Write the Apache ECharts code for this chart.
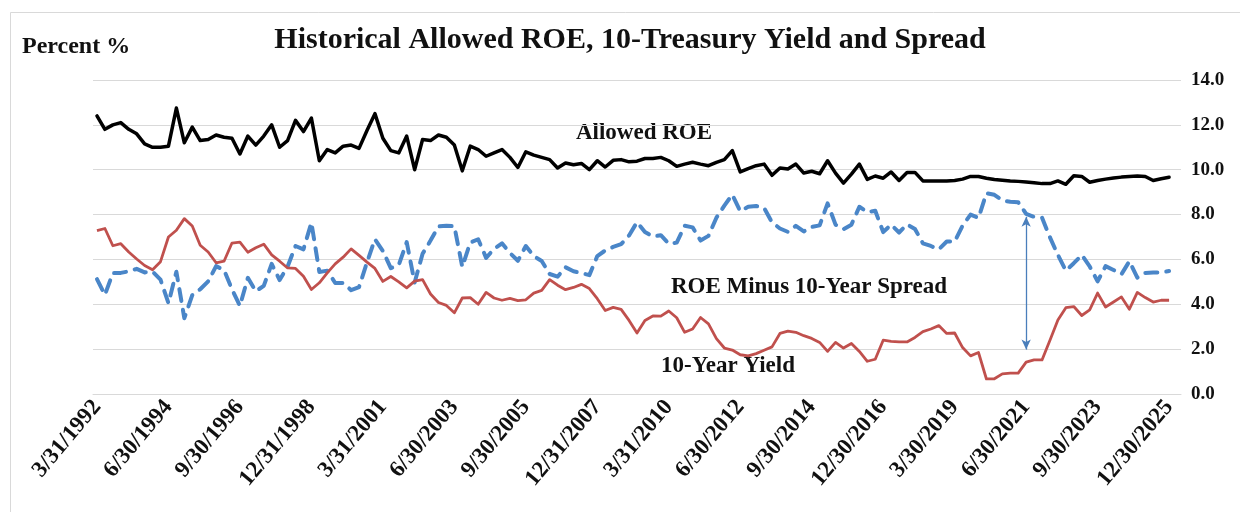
<!DOCTYPE html>
<html>
<head>
<meta charset="utf-8">
<script src="https://cdn.jsdelivr.net/npm/echarts@6/dist/echarts.min.js"></script>
<style>
  html, body { margin: 0; padding: 0; background: #ffffff; }
  #chart { width: 1240px; height: 512px; }
</style>
</head>
<body>
<div id="chart"></div>
<script>
// ---- Data (quarterly, 3/31/1992 .. 12/30/2025) ----
const tickLabels = ['3/31/1992', '6/30/1994', '9/30/1996', '12/31/1998', '3/31/2001', '6/30/2003',
  '9/30/2005', '12/31/2007', '3/31/2010', '6/30/2012', '9/30/2014', '12/30/2016',
  '3/30/2019', '6/30/2021', '9/30/2023', '12/30/2025'];

const allowedROE = [
  12.4, 11.8, 12.0, 12.1, 11.8, 11.6, 11.15, 11.0, 11.0, 11.05,
  12.75, 11.2, 11.9, 11.3, 11.35, 11.55, 11.45, 11.4, 10.7, 11.5,
  11.1, 11.5, 12.0, 11.0, 11.3, 12.2, 11.7, 12.3, 10.4, 10.9,
  10.75, 11.05, 11.1, 10.95, 11.75, 12.5, 11.4, 10.85, 10.75, 11.5,
  10.0, 11.35, 11.3, 11.55, 11.45, 11.1, 9.95, 11.05, 10.9, 10.6,
  10.75, 10.9, 10.55, 10.1, 10.8, 10.65, 10.55, 10.45, 10.08, 10.3,
  10.22, 10.28, 10.0, 10.4, 10.12, 10.42, 10.45, 10.35, 10.38, 10.5,
  10.5, 10.55, 10.4, 10.15, 10.25, 10.33, 10.25, 10.18, 10.33, 10.45,
  10.85, 9.9, 10.05, 10.18, 10.25, 9.75, 10.08, 10.03, 10.25, 9.85,
  9.93, 9.82, 10.4, 9.85, 9.4, 9.8, 10.25, 9.57, 9.72, 9.62,
  9.9, 9.52, 9.88, 9.88, 9.5, 9.5, 9.5, 9.5, 9.52, 9.58,
  9.7, 9.7, 9.62, 9.56, 9.53, 9.5, 9.48, 9.45, 9.42, 9.38,
  9.38, 9.5, 9.35, 9.73, 9.7, 9.44, 9.52, 9.58, 9.63, 9.67,
  9.7, 9.72, 9.7, 9.52, 9.6, 9.66
];

const tenYearYield = [
  7.28, 7.38, 6.61, 6.7, 6.33, 6.02, 5.73, 5.54, 5.9, 7.0,
  7.3, 7.82, 7.49, 6.63, 6.33, 5.85, 5.92, 6.73, 6.77, 6.32,
  6.52, 6.68, 6.2, 5.92, 5.62, 5.6, 5.25, 4.66, 4.96, 5.4,
  5.8, 6.1, 6.47, 6.18, 5.88, 5.6, 5.02, 5.24, 5.0, 4.73,
  5.03, 5.1, 4.46, 4.08, 3.95, 3.62, 4.28, 4.3, 4.0, 4.53,
  4.28, 4.18, 4.26, 4.16, 4.2, 4.5, 4.62, 5.1, 4.85, 4.65,
  4.75, 4.89, 4.7, 4.25, 3.72, 3.86, 3.77, 3.28, 2.72, 3.28,
  3.48, 3.47, 3.7, 3.4, 2.75, 2.9, 3.41, 3.13, 2.47, 2.05,
  1.96, 1.75, 1.7, 1.8, 1.95, 2.1, 2.7, 2.8, 2.75, 2.6,
  2.48, 2.3, 1.9, 2.3, 2.05, 2.25, 1.9, 1.46, 1.55, 2.4,
  2.35, 2.32, 2.32, 2.52, 2.78, 2.9, 3.05, 2.7, 2.72, 2.07,
  1.7, 1.85, 0.67, 0.68, 0.9, 0.93, 0.93, 1.42, 1.52, 1.52,
  2.4, 3.3, 3.85, 3.9, 3.5, 3.75, 4.5, 3.88, 4.1, 4.33,
  3.78, 4.53, 4.3, 4.1, 4.18, 4.18
];

const spreadValues = [
  5.12, 4.42, 5.39, 5.4, 5.47, 5.58, 5.42, 5.46, 5.1, 4.05,
  5.45, 3.38, 4.41, 4.67, 5.02, 5.7, 5.53, 4.67, 3.93, 5.18,
  4.58, 4.82, 5.8, 5.08, 5.68, 6.6, 6.45, 7.64, 5.44, 5.5,
  4.95, 4.95, 4.63, 4.77, 5.87, 6.9, 6.38, 5.61, 5.75, 6.77,
  4.97, 6.25, 6.84, 7.47, 7.5, 7.48, 5.67, 6.75, 6.9, 6.07,
  6.47, 6.72, 6.29, 5.94, 6.6, 6.15, 5.93, 5.35, 5.23, 5.65,
  5.47, 5.39, 5.3, 6.15, 6.4, 6.56, 6.68, 7.07, 7.66, 7.22,
  7.02, 7.08, 6.7, 6.75, 7.5, 7.43, 6.84, 7.05, 7.86, 8.4,
  8.89, 8.15, 8.35, 8.38, 8.3, 7.65, 7.38, 7.23, 7.5, 7.25,
  7.45, 7.52, 8.5, 7.55, 7.35, 7.55, 8.35, 8.11, 8.17, 7.22,
  7.55, 7.2, 7.56, 7.36, 6.72, 6.6, 6.45, 6.8, 6.8, 7.51,
  8.0, 7.85, 8.95, 8.88, 8.63, 8.57, 8.55, 8.03, 7.9, 7.86,
  6.98, 6.2, 5.5, 5.83, 6.2, 5.69, 5.02, 5.7, 5.53, 5.34,
  5.92, 5.19, 5.4, 5.42, 5.42, 5.48
];

// spread annotation arrow (category index, from / to value)
const arrowIndex = 117;
const arrowFrom = 7.9;
const arrowTo = 1.98;

const yTicks = { min: 0, max: 14, interval: 2 };

// quarterly category labels (one extra empty quarter at the end of the axis)
const quarterEnds = [['3', '31'], ['6', '30'], ['9', '30'], ['12', '31']];
const categories = [];
for (let y = 1992; categories.length < 137; y++) {
  for (let q = 0; q < 4 && categories.length < 137; q++) {
    categories.push(quarterEnds[q][0] + '/' + quarterEnds[q][1] + '/' + y);
  }
}

const FONT = "'Liberation Serif', 'DejaVu Serif', serif";

const chart = echarts.init(document.getElementById('chart'), null, { renderer: 'canvas' });
chart.setOption({
  backgroundColor: '#ffffff',
  animation: false,
  grid: { left: 93, right: 59, top: 80, bottom: 118, containLabel: false },
  xAxis: {
    type: 'category',
    data: categories,
    boundaryGap: true,
    axisLine: { show: true, lineStyle: { color: '#d9d9d9', width: 1 } },
    axisTick: { show: false },
    splitLine: { show: false },
    axisLabel: {
      interval: function (idx) { return idx % 9 === 0 && idx / 9 < tickLabels.length; },
      formatter: function (val, idx) { return tickLabels[idx / 9] || ''; },
      rotate: 50,
      margin: 9,
      color: '#111111',
      fontFamily: FONT,
      fontWeight: 'bold',
      fontSize: 23
    }
  },
  yAxis: {
    type: 'value',
    position: 'right',
    min: yTicks.min,
    max: yTicks.max,
    interval: yTicks.interval,
    axisLine: { show: false },
    axisTick: { show: false },
    splitLine: { show: true, lineStyle: { color: '#d9d9d9', width: 1 } },
    axisLabel: {
      formatter: function (v) { return v.toFixed(1); },
      margin: 10,
      color: '#111111',
      fontFamily: FONT,
      fontWeight: 'bold',
      fontSize: 19
    }
  },
  series: [
    {
      name: 'Allowed ROE',
      type: 'line',
      data: allowedROE,
      symbol: 'none',
      lineStyle: { color: '#000000', width: 3.5, join: 'round', cap: 'round' },
      z: 4
    },
    {
      name: 'ROE Minus 10-Year Spread',
      type: 'line',
      data: spreadValues,
      symbol: 'none',
      lineStyle: { color: '#4a86c8', width: 4, type: [12, 9], cap: 'round', join: 'round' },
      z: 3,
      markLine: {
        silent: true,
        symbol: ['arrow', 'arrow'],
        symbolSize: [7, 10],
        label: { show: false },
        lineStyle: { color: '#4a7ebb', width: 1.3, type: 'solid' },
        data: [[{ coord: [arrowIndex, arrowFrom] }, { coord: [arrowIndex, arrowTo] }]]
      }
    },
    {
      name: '10-Year Yield',
      type: 'line',
      data: tenYearYield,
      symbol: 'none',
      lineStyle: { color: '#c0504d', width: 2.8, join: 'round' },
      z: 5
    }
  ],
  graphic: [
    {
      type: 'rect', left: 8, top: 10, silent: true,
      shape: { x: 0, y: 0, width: 1300, height: 600 },
      style: { fill: 'none', stroke: '#d9d9d9', lineWidth: 1 }, z: -10
    },
    {
      type: 'text', x: 630, y: 40,
      style: { text: 'Historical Allowed ROE, 10-Treasury Yield and Spread', fill: '#111111',
        font: "bold 30px " + FONT, textAlign: 'center', textVerticalAlign: 'middle' }
    },
    {
      type: 'text', x: 22, y: 47,
      style: { text: 'Percent %', fill: '#111111',
        font: "bold 24px " + FONT, textAlign: 'left', textVerticalAlign: 'middle' }
    },
    {
      type: 'text', x: 644, y: 133,
      style: { text: 'Allowed ROE', fill: '#111111',
        font: "bold 23px " + FONT, textAlign: 'center', textVerticalAlign: 'middle' }
    },
    {
      type: 'text', x: 809, y: 287,
      style: { text: 'ROE Minus 10-Year Spread', fill: '#111111',
        font: "bold 23px " + FONT, textAlign: 'center', textVerticalAlign: 'middle' }
    },
    {
      type: 'text', x: 728, y: 366,
      style: { text: '10-Year Yield', fill: '#111111',
        font: "bold 23px " + FONT, textAlign: 'center', textVerticalAlign: 'middle' }
    }
  ]
});
</script>
</body>
</html>
